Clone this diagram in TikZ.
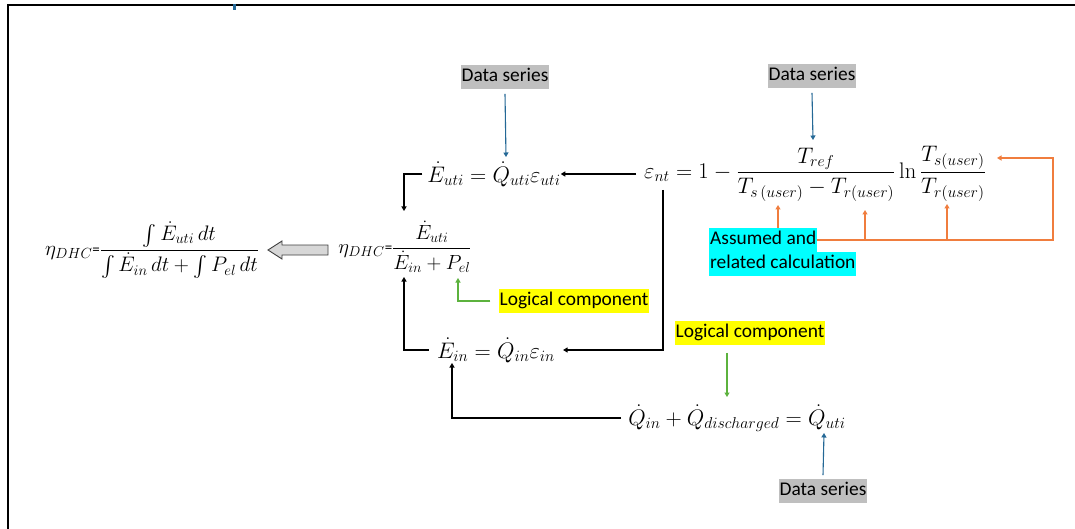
\RequirePackage{fix-cm}
\documentclass[tikz,border=0pt]{standalone}
\usepackage{amsmath}
\usepackage[no-math]{fontspec}
\newfontfamily\calibri{Carlito}
\usetikzlibrary{arrows.meta,calc}
\definecolor{dsgray}{RGB}{191,191,191}
\definecolor{hlyellow}{RGB}{255,255,0}
\definecolor{hlcyan}{RGB}{0,255,255}
\definecolor{dsblue}{RGB}{36,104,150}
\definecolor{lcgreen}{RGB}{92,178,62}
\definecolor{asorange}{RGB}{240,125,62}
\definecolor{hollow}{RGB}{215,215,215}
\newcommand{\smalleq}{\raisebox{1pt}{\calibri\fontsize{15}{16}\selectfont =}}
\begin{document}
\begin{tikzpicture}[x=1pt,y=-1pt,
  lbl/.style={font=\calibri\fontsize{19.4}{22}\selectfont, inner xsep=1pt, inner ysep=2.5pt,
              text height=14pt, text depth=4.5pt, text=black},
  dsbox/.style={lbl, fill=dsgray},
  lcbox/.style={lbl, fill=hlyellow},
  asbox/.style={lbl, fill=hlcyan, anchor=north west},
  eq/.style={font=\fontsize{22.5}{27}\selectfont, inner sep=0pt},
  etaeq/.style={inner sep=0pt},
  tip/.style={-{Triangle[width=5pt,length=4.5pt]}},
  blk/.style={tip, draw=black, line width=1.1pt},
  blu/.style={tip, draw=dsblue, line width=1.1pt},
  grn/.style={tip, draw=lcgreen, line width=1.1pt},
  org/.style={tip, draw=asorange, line width=1.3pt},
  hollowarrow/.style={fill=hollow, draw=black!75, line width=0.9pt, line join=miter}
]
\useasboundingbox (0,0) rectangle (1075,529);
\fill[white] (0,0) rectangle (1075,529);
% frame
\draw[line width=2.2pt] (8,529) -- (8,5) -- (1075,5);
\fill[dsblue] (233,4) rectangle (236,10);

% labels
\node[dsbox] (ds1) at (505,77) {Data series};
\node[dsbox] (ds2) at (812,76) {Data series};
\node[dsbox] (ds3) at (823,491) {Data series};
\node[lcbox] (lc1) at (574,301) {Logical component};
\node[lcbox] (lc2) at (750,333) {Logical component};
\node[asbox] (as1) at (709,228) {Assumed and};
\node[asbox] (as2) at (709,252) {related calculation};

% equations
\node[etaeq, font=\fontsize{21}{25}\selectfont] (eta1) at (152,250) {$\eta_{DHC}$\smalleq$\dfrac{\int \dot E_{uti}\,dt}{\int \dot E_{in}\,dt+\int P_{el}\,dt}$};
\node[etaeq, font=\fontsize{20.5}{25}\selectfont] (eta2) at (405,247) {$\eta_{DHC}$\smalleq$\dfrac{\dot E_{uti}}{\dot E_{in}+P_{el}}$};
\node[eq] (eut) at (494,174) {$\dot E_{uti}=\dot Q_{uti}\varepsilon_{uti}$};
\node[eq] (ent) at (815,174) {$\varepsilon_{nt}=1-\dfrac{T_{ref}}{T_{s\,(user)}-T_{r(user)}}\ln\dfrac{T_{s(user)}}{T_{r(user)}}$};
\node[eq] (ein) at (496,350) {$\dot E_{in}=\dot Q_{in}\varepsilon_{in}$};
\node[eq] (qeq) at (737,418) {$\dot Q_{in}+\dot Q_{discharged}=\dot Q_{uti}$};

% arrow targets
\coordinate (tQuti) at (506,157);
\coordinate (tTref) at (813,140);
\coordinate (tEtaTop) at (404,211);
\coordinate (tEtaBot) at (404,277);
\coordinate (tPel) at (458,278);
\coordinate (sEnt) at (663,190);
\coordinate (tEin) at (452,363);
\coordinate (tQdis) at (727,397);
\coordinate (tQuti2) at (824,433);
\coordinate (tTs1) at (778,205);
\coordinate (tTr1) at (865,210);
\coordinate (tTr2) at (947,204);
\coordinate (oCorner) at (1053,158);
\coordinate (tTs2) at (997,158);

% blue data arrows
\draw[blu] ([yshift=-5pt]ds1.south) -- (tQuti);
\draw[blu] ([yshift=-5pt]ds2.south) -- (tTref);
\draw[blu] ([yshift=4pt]ds3.north) -- (tQuti2);

% black flow
\draw[blk] ([xshift=-5pt]eut.west) -| (tEtaTop);
\draw[blk] ([xshift=-8pt]ent.west) -- (ent.west -| eut.east);
\draw[blk] (sEnt) |- ([xshift=8pt]ein.east);
\draw[blk] ([xshift=-8pt]ein.west) -| (tEtaBot);
\draw[blk] ([xshift=-7pt]qeq.west) -| (tEin);

% green
\draw[grn] ([xshift=-8pt]lc1.west) -| (tPel);
\draw[grn] ([yshift=-8pt]lc2.south -| tQdis) -- (tQdis);

% orange
\draw[org] (as1.north -| tTs1) -- (tTs1);
\draw[org] (as1.east) -| (oCorner) -- (tTs2);
\draw[org] (as1.east -| tTr1) -- (tTr1);
\draw[org] (as1.east -| tTr2) -- (tTr2);

% hollow arrow
\draw[hollowarrow] (268,250) -- (282,241) -- (282,245) -- (328,245) -- (328,255) -- (282,255) -- (282,259) -- cycle;
\end{tikzpicture}
\end{document}
